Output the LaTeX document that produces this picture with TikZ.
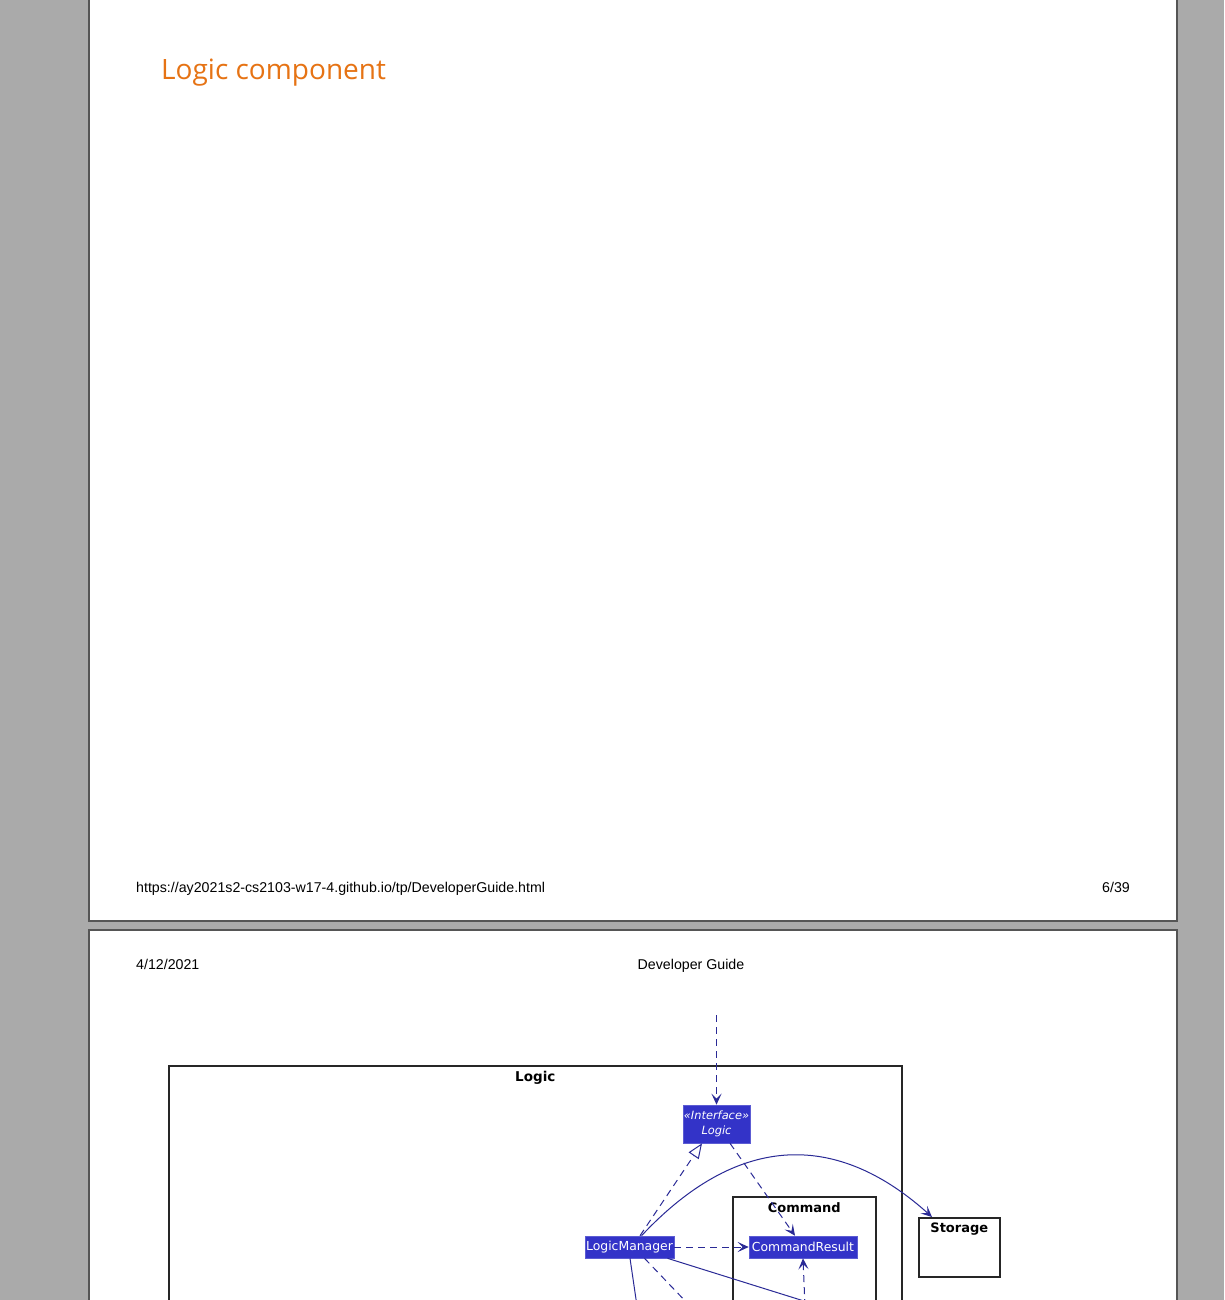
\documentclass[tikz,border=0pt]{standalone}
\usepackage{fontspec}
\setmainfont{Liberation Sans}
\newfontfamily\titlefont{Open Sans}
\newfontfamily\umlfont{DejaVu Sans}
\usetikzlibrary{arrows.meta}
\definecolor{pagegray}{HTML}{AAAAAA}
\definecolor{pageedge}{HTML}{555555}
\definecolor{titleorange}{HTML}{E67314}
\definecolor{umlfill}{HTML}{3333C8}
\definecolor{umlline}{HTML}{2A2A96}
\tikzset{
  page/.style={fill=white, draw=pageedge, line width=1.2pt},
  pagetext/.style={font=\fontsize{14.2}{17}\selectfont, inner sep=0pt},
  classbox/.style={fill=umlfill, draw=umlfill!80!white, line width=0.6pt, text=white, inner sep=0pt, font=\umlfont\fontsize{12.4}{14}\selectfont},
  frame/.style={draw=black!85, line width=1.6pt, anchor=north west, inner sep=0pt},
  framelabel/.style={font=\umlfont\bfseries\fontsize{13}{15}\selectfont, anchor=north, inner sep=0pt},
  dep/.style={draw=umlline, line width=1pt, dash pattern=on 7pt off 5pt, -{Stealth[length=11pt,width=10pt,inset=5pt]}},
  dashline/.style={draw=umlline, line width=1pt, dash pattern=on 7pt off 5pt},
  assoc/.style={draw=umlline, line width=1pt},
  assocarrow/.style={draw=umlline, line width=1pt, -{Stealth[length=11pt,width=10pt,inset=5pt]}},
  realize/.style={draw=umlline, line width=1pt, dash pattern=on 7pt off 5pt, -{Triangle[open,length=15pt,width=12pt]}}
}
\begin{document}
\begin{tikzpicture}[x=1pt,y=-1pt]
\useasboundingbox (0,0) rectangle (1224,1300);
\clip (0,0) rectangle (1224,1300);
\fill[pagegray] (0,0) rectangle (1224,1300);
% pages
\draw[page] (89,-10) rectangle (1177,921);
\draw[page] (89,930) rectangle (1177,1320);
% page 1 texts
\node[anchor=base west, inner sep=0pt, text=titleorange, font=\titlefont\fontsize{28}{32}\selectfont] (title) at (161,80) {Logic component};
\node[pagetext, anchor=base west] (url) at (136,892) {https://ay2021s2-cs2103-w17-4.github.io/tp/DeveloperGuide.html};
\node[pagetext, anchor=base east] (pnum) at (1130,892) {6/39};
% page 2 header
\node[pagetext, anchor=base west] (date) at (136,969) {4/12/2021};
\node[pagetext, anchor=base] (hdr) at (691,969) {Developer Guide};
% frames
\node[frame, minimum width=733pt, minimum height=260pt] (logicframe) at (168,1065) {};
\node[framelabel, font=\umlfont\bfseries\fontsize{13.5}{15}\selectfont] (logiclabel) at ([yshift=-6pt]logicframe.north) {Logic};
\node[frame, minimum width=143pt, minimum height=130pt] (cmdframe) at (732,1196) {};
\node[framelabel] (cmdlabel) at ([yshift=-6pt]cmdframe.north) {Command};
\node[frame, minimum width=81pt, minimum height=59pt] (storage) at (918,1217) {};
\node[framelabel] (storagelabel) at ([yshift=-6pt]storage.north) {Storage};
% classes
\node[classbox, minimum width=67pt, minimum height=38pt, align=center, font=\umlfont\itshape\fontsize{11.4}{15}\selectfont] (ilogic) at (716.5,1124) {«Interface»\\Logic};
\node[classbox, minimum width=89pt, minimum height=22pt] (lm) at (629.5,1247) {LogicManager};
\node[classbox, minimum width=108pt, minimum height=22pt] (cr) at (803,1247) {CommandResult};
% free ends
\coordinate (topend) at (716.5,1015);
\coordinate (b1) at (637,1306);
\coordinate (b2) at (690,1306);
\coordinate (b3) at (820,1306);
\coordinate (b4) at (805,1306);
% connectors
\draw[dep] (topend) -- (ilogic.north);
\draw[realize] ([xshift=10.5pt]lm.north) -- ([xshift=-14.5pt]ilogic.south);
\draw[dep] ([xshift=13.5pt]ilogic.south) -- ([xshift=-8pt]cr.north);
\draw[dep] (lm.east) -- (cr.west);
\draw[assocarrow] ([xshift=12pt]lm.north) .. controls (752,1118) and (852,1145) .. ([xshift=14pt]storage.north west);
\draw[dep] (b4) -- (cr.south);
\draw[assoc] ([xshift=0.5pt]lm.south) -- (b1);
\draw[dashline] ([xshift=15pt]lm.south) -- (b2);
\draw[assoc] ([xshift=38pt]lm.south) -- (b3);
\end{tikzpicture}
\end{document}
